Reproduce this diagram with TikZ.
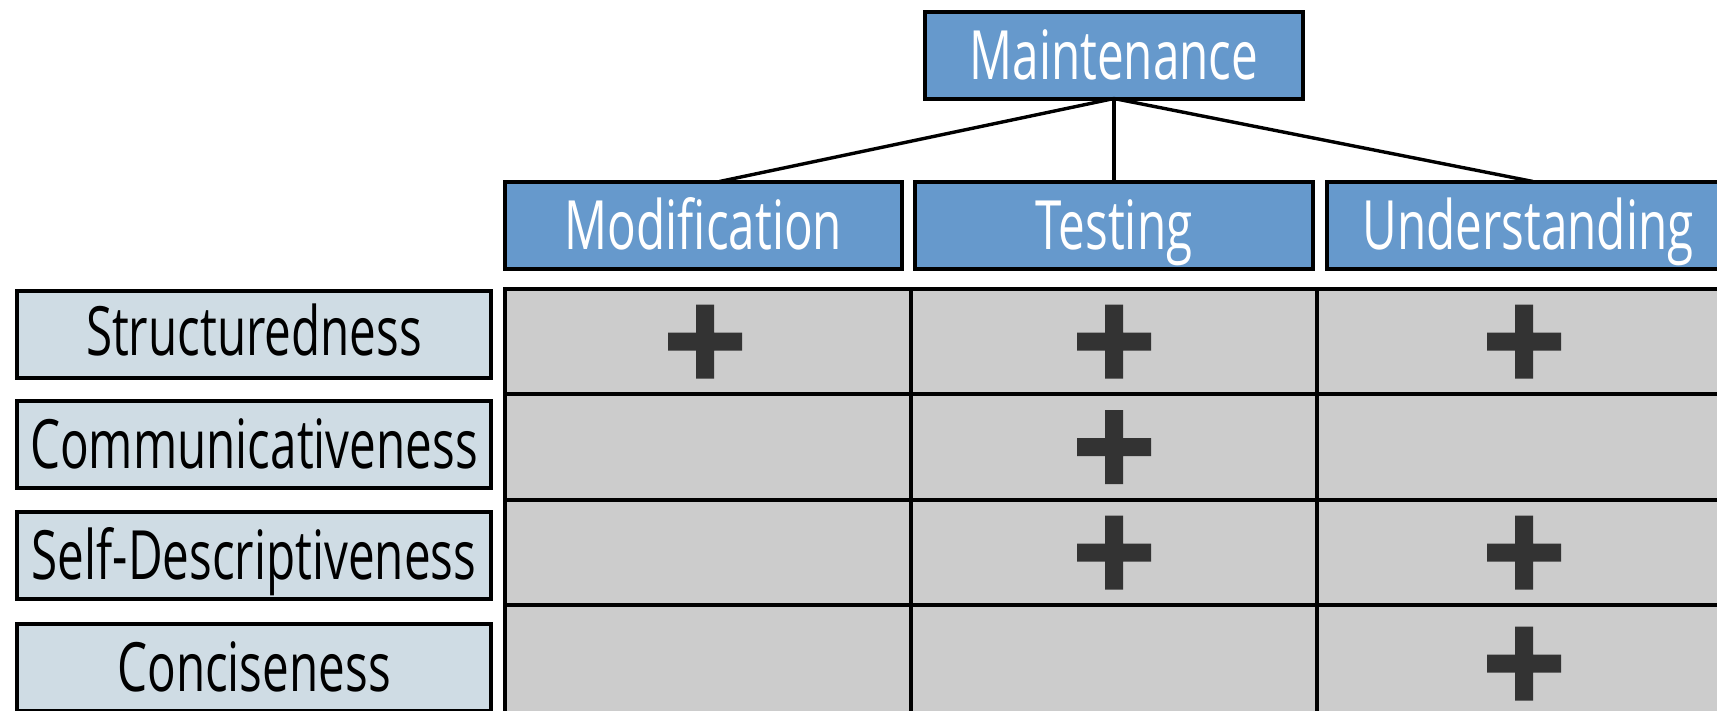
\documentclass[tikz,border=0pt]{standalone}
\usepackage{fontspec}
\setmainfont{Open Sans}[FakeStretch=0.70]
\definecolor{hdrblue}{RGB}{102,153,204}
\definecolor{lblfill}{RGB}{207,220,228}
\definecolor{cellgray}{RGB}{204,204,204}
\definecolor{plusc}{RGB}{51,51,51}
\tikzset{
  every node/.style={inner sep=0pt, outer sep=0pt},
  boxtext/.style={font=\fontsize{68}{70}\selectfont, text height=48pt, text depth=0pt},
  hdr/.style={boxtext, draw=black, line width=4pt, fill=hdrblue, text=white, minimum height=87pt},
  lbl/.style={boxtext, draw=black, line width=4pt, fill=lblfill, text=black, minimum width=474pt, minimum height=87pt},
  cell/.style={draw=black, line width=3.6pt, fill=cellgray},
  conn/.style={draw=black, line width=3.4pt},
  plusmark/.pic={\fill[plusc] (-37,-9) rectangle (37,9) (-9,-37) rectangle (9,37);}
}
\begin{document}
\begin{tikzpicture}[x=1pt,y=-1pt]
\useasboundingbox (0,0) rectangle (1717,710);
\fill[white] (0,0) rectangle (1717,710);
\clip (0,0) rectangle (1717,710);
% header boxes
\node[hdr, minimum width=378pt] (main) at (1114,55) {Maintenance};
\node[hdr, minimum width=397pt] (mod) at (703.5,225) {Modification};
\node[hdr, minimum width=398pt] (test) at (1114,225) {Testing};
\node[hdr, minimum width=402pt] (und) at (1528,225) {Understanding};
% connectors
\draw[conn] (main.south) -- ([xshift=16pt]mod.north);
\draw[conn] (main.south) -- (test.north);
\draw[conn] (main.south) -- ([xshift=5pt]und.north);
% row labels
\node[lbl] (l1) at (254,334) {\raisebox{3pt}{Structuredness}};
\node[lbl] (l2) at (254,444) {Communicativeness};
\node[lbl] (l3) at (254,555.5) {Self-Descriptiveness};
\node[lbl] (l4) at (254,667) {Conciseness};
% grid cells
\foreach \c/\xa/\xb in {1/505/911, 2/911/1317, 3/1317/1731}
  \foreach \r/\ya/\yb in {1/289/394, 2/394/500, 3/500/605, 4/605/714}
    \node[cell, minimum width={(\xb-\xa)*1pt}, minimum height={(\yb-\ya)*1pt}]
      (c\r\c) at ({(\xa+\xb)/2},{(\ya+\yb)/2}) {};
% plus marks
\pic at ([xshift=-3pt]c11.center) {plusmark};
\pic at (c12) {plusmark};
\pic at (c13) {plusmark};
\pic at (c22) {plusmark};
\pic at (c32) {plusmark};
\pic at (c33) {plusmark};
\pic at ([yshift=-4pt]c43.center) {plusmark};
\end{tikzpicture}
\end{document}
